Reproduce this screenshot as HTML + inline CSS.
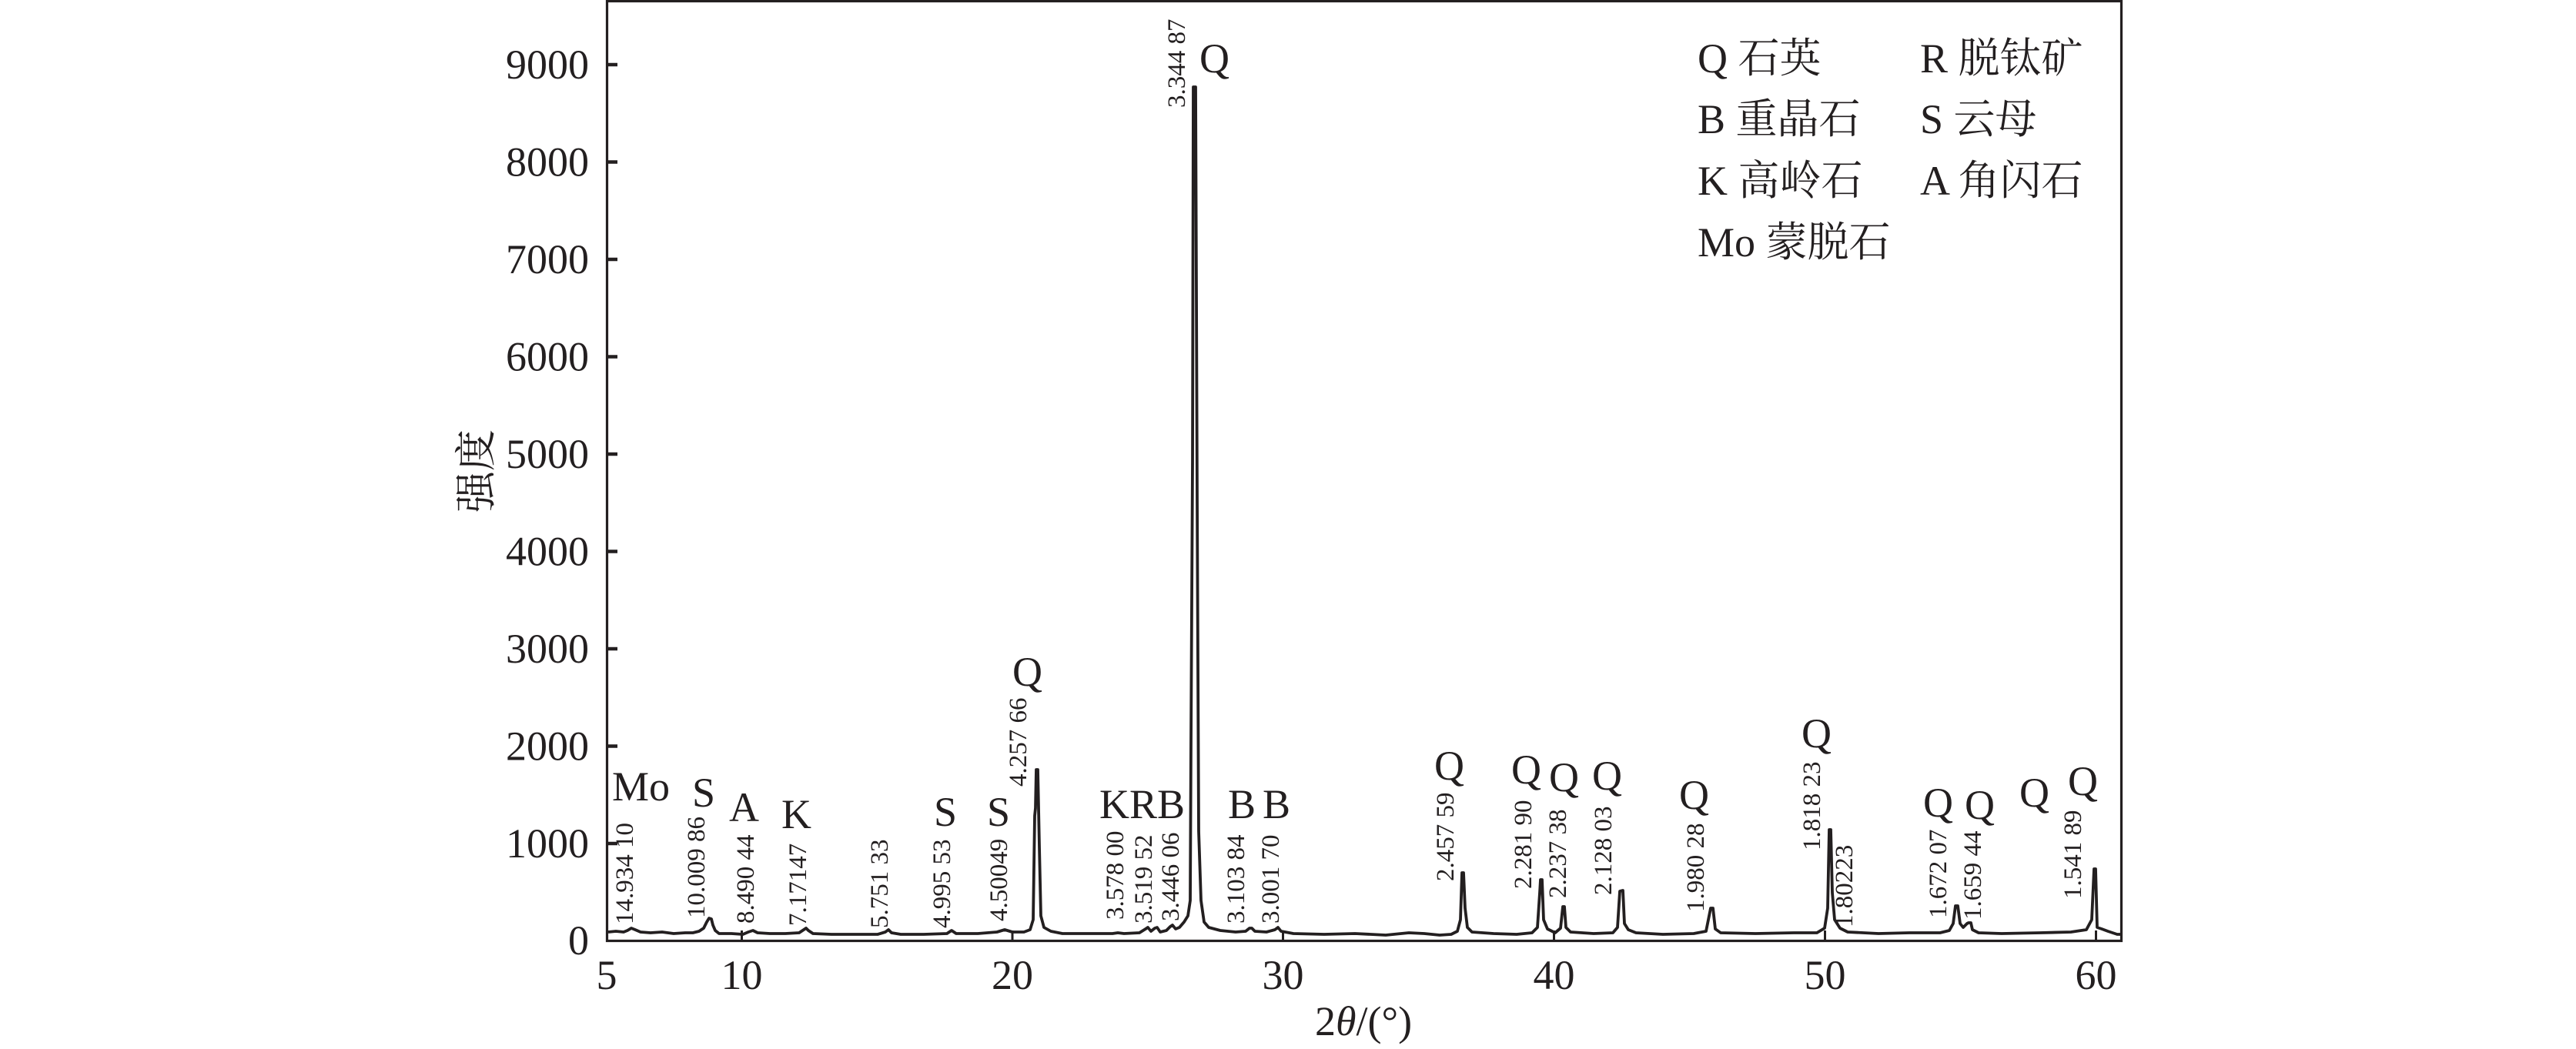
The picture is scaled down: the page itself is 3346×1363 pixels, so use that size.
<!DOCTYPE html>
<html>
<head>
<meta charset="utf-8">
<style>
html,body{margin:0;padding:0;background:#fff;}
svg{display:block;}
.t{font-family:"Liberation Serif","Noto Serif CJK SC",serif;fill:#231f20;}
.n{font-family:"Liberation Serif",serif;font-size:54px;fill:#231f20;}
.r{font-family:"Liberation Serif",serif;font-size:33px;fill:#231f20;}
</style>
</head>
<body>
<svg width="3346" height="1363" viewBox="0 0 3346 1363" xmlns="http://www.w3.org/2000/svg">
<rect x="0" y="0" width="3346" height="1363" fill="#fff"/>

<!-- data -->
<path fill="none" stroke="#231f20" stroke-width="3.8" stroke-linejoin="round" d="
M790,1211 L800,1210 L810,1211 L815,1209 L820,1206 L825,1208 L832,1211 L845,1212 L860,1211 L875,1213 L890,1212 L900,1212 L908,1210 L914,1206 L918,1198 L921,1193 L924,1194 L926,1202 L929,1209 L934,1213 L950,1213 L965,1214 L972,1211 L978,1209 L984,1212 L1000,1213 L1020,1213 L1038,1212 L1044,1208 L1047,1206 L1050,1209 L1056,1213 L1080,1214 L1110,1214 L1140,1214 L1150,1211 L1154,1208 L1158,1212 L1170,1214 L1200,1214 L1230,1213 L1236,1209 L1242,1213 L1270,1213 L1295,1211 L1305,1208 L1315,1211 L1330,1211 L1338,1208 L1342,1195 L1344,1060 L1345,1050 L1346,1000 L1348,1000 L1350,1100 L1352,1190 L1356,1205 L1365,1210 L1380,1213 L1420,1213 L1445,1213 L1452,1212 L1460,1213 L1480,1212 L1488,1207 L1491,1205 L1495,1210 L1500,1206 L1503,1205 L1507,1211 L1515,1209 L1520,1204 L1523,1202 L1527,1207 L1532,1205 L1538,1198 L1543,1190 L1546,1170 L1547,963 L1549,600 L1550,113 L1553,113 L1555,650 L1557,1080 L1560,1170 L1564,1198 L1570,1205 L1585,1209 L1605,1211 L1618,1210 L1623,1206 L1626,1206 L1630,1210 L1645,1211 L1656,1208 L1660,1205 L1664,1210 L1680,1213 L1720,1214 L1760,1213 L1800,1215 L1830,1212 L1850,1213 L1870,1215 L1885,1214 L1893,1210 L1897,1195 L1899,1134 L1901,1134 L1903,1180 L1906,1205 L1912,1211 L1940,1213 L1970,1214 L1990,1212 L1997,1205 L2000,1160 L2001,1143 L2003,1143 L2005,1195 L2010,1207 L2020,1212 L2027,1206 L2030,1178 L2032,1178 L2034,1205 L2040,1211 L2070,1213 L2095,1212 L2101,1205 L2104,1158 L2108,1157 L2110,1200 L2115,1208 L2125,1212 L2160,1214 L2200,1213 L2216,1210 L2222,1180 L2225,1180 L2228,1207 L2235,1212 L2280,1213 L2330,1212 L2360,1212 L2370,1206 L2374,1180 L2376,1078 L2378,1078 L2380,1160 L2383,1195 L2390,1206 L2400,1211 L2440,1213 L2480,1212 L2520,1212 L2532,1209 L2537,1200 L2540,1177 L2543,1177 L2546,1200 L2550,1205 L2555,1200 L2557,1199 L2560,1199 L2562,1208 L2570,1212 L2600,1213 L2650,1212 L2690,1211 L2710,1208 L2717,1195 L2720,1129 L2722,1129 L2724,1205 L2730,1207 L2738,1210 L2750,1214 L2755,1214"/>

<!-- frame -->
<rect x="788.5" y="1.5" width="1967" height="1221" fill="none" stroke="#231f20" stroke-width="3.2"/>

<!-- y ticks -->
<g stroke="#231f20" stroke-width="4.5">
<line x1="788" y1="1096" x2="802" y2="1096"/>
<line x1="788" y1="969.5" x2="802" y2="969.5"/>
<line x1="788" y1="843" x2="802" y2="843"/>
<line x1="788" y1="716.5" x2="802" y2="716.5"/>
<line x1="788" y1="590" x2="802" y2="590"/>
<line x1="788" y1="463.5" x2="802" y2="463.5"/>
<line x1="788" y1="337" x2="802" y2="337"/>
<line x1="788" y1="210.5" x2="802" y2="210.5"/>
<line x1="788" y1="84" x2="802" y2="84"/>
</g>
<!-- x ticks -->
<g stroke="#231f20" stroke-width="3">
<line x1="963.5" y1="1222" x2="963.5" y2="1209"/>
<line x1="1315" y1="1222" x2="1315" y2="1209"/>
<line x1="1666.5" y1="1222" x2="1666.5" y2="1209"/>
<line x1="2018.5" y1="1222" x2="2018.5" y2="1209"/>
<line x1="2370.5" y1="1222" x2="2370.5" y2="1209"/>
<line x1="2722.5" y1="1222" x2="2722.5" y2="1209"/>
</g>

<!-- y tick labels -->
<g class="n" text-anchor="end">
<text x="765" y="1240">0</text>
<text x="765" y="1114">1000</text>
<text x="765" y="987.5">2000</text>
<text x="765" y="861">3000</text>
<text x="765" y="734.5">4000</text>
<text x="765" y="608">5000</text>
<text x="765" y="481.5">6000</text>
<text x="765" y="355">7000</text>
<text x="765" y="228.5">8000</text>
<text x="765" y="102">9000</text>
</g>
<!-- x tick labels -->
<g class="n" text-anchor="middle">
<text x="788" y="1285">5</text>
<text x="963.5" y="1285">10</text>
<text x="1315" y="1285">20</text>
<text x="1666.5" y="1285">30</text>
<text x="2018.5" y="1285">40</text>
<text x="2370.5" y="1285">50</text>
<text x="2722.5" y="1285">60</text>
</g>

<!-- axis titles -->
<text class="n" x="1708" y="1345">2<tspan font-style="italic">θ</tspan>/(°)</text>
<text class="t" font-size="54" text-anchor="middle" transform="translate(637,612) rotate(-90)">强度</text>

<!-- legend -->
<g class="t" font-size="54">
<text x="2205" y="94">Q 石英</text>
<text x="2494" y="94">R 脱钛矿</text>
<text x="2205" y="173">B 重晶石</text>
<text x="2494" y="173">S 云母</text>
<text x="2205" y="253">K 高岭石</text>
<text x="2494" y="253">A 角闪石</text>
<text x="2205" y="333">Mo 蒙脱石</text>
</g>

<!-- phase letter labels -->
<g class="n">
<text x="795" y="1040">Mo</text>
<text x="899" y="1048">S</text>
<text x="947" y="1067">A</text>
<text x="1015" y="1076">K</text>
<text x="1213" y="1073">S</text>
<text x="1282" y="1073">S</text>
<text x="1428" y="1063">KRB</text>
<text x="1595" y="1063">B</text>
<text x="1640" y="1063">B</text>
<text x="1315" y="891">Q</text>
<text x="1558" y="94">Q</text>
<text x="1863" y="1013">Q</text>
<text x="1963" y="1018">Q</text>
<text x="2012" y="1028">Q</text>
<text x="2068" y="1026">Q</text>
<text x="2181" y="1051">Q</text>
<text x="2340" y="971">Q</text>
<text x="2498" y="1061">Q</text>
<text x="2552" y="1064">Q</text>
<text x="2623" y="1048">Q</text>
<text x="2686" y="1033">Q</text>
</g>

<!-- rotated d-spacing labels -->
<g class="r">
<text transform="translate(822,1201) rotate(-90)">14.934 10</text>
<text transform="translate(915,1193) rotate(-90)">10.009 86</text>
<text transform="translate(979,1200) rotate(-90)">8.490 44</text>
<text transform="translate(1047,1203) rotate(-90)">7.17147</text>
<text transform="translate(1153,1206) rotate(-90)">5.751 33</text>
<text transform="translate(1234,1206) rotate(-90)">4.995 53</text>
<text transform="translate(1308,1197) rotate(-90)">4.50049</text>
<text transform="translate(1333,1022) rotate(-90)">4.257 66</text>
<text transform="translate(1459,1195) rotate(-90)">3.578 00</text>
<text transform="translate(1496,1200) rotate(-90)">3.519 52</text>
<text transform="translate(1531,1197) rotate(-90)">3.446 06</text>
<text transform="translate(1539,140) rotate(-90)">3.344 87</text>
<text transform="translate(1616,1200) rotate(-90)">3.103 84</text>
<text transform="translate(1661,1200) rotate(-90)">3.001 70</text>
<text transform="translate(1888,1145) rotate(-90)">2.457 59</text>
<text transform="translate(1989,1155) rotate(-90)">2.281 90</text>
<text transform="translate(2034,1167) rotate(-90)">2.237 38</text>
<text transform="translate(2093,1163) rotate(-90)">2.128 03</text>
<text transform="translate(2213,1185) rotate(-90)">1.980 28</text>
<text transform="translate(2364,1105) rotate(-90)">1.818 23</text>
<text transform="translate(2406,1205) rotate(-90)">1.80223</text>
<text transform="translate(2528,1193) rotate(-90)">1.672 07</text>
<text transform="translate(2573,1195) rotate(-90)">1.659 44</text>
<text transform="translate(2703,1168) rotate(-90)">1.541 89</text>
</g>
</svg>
</body>
</html>
